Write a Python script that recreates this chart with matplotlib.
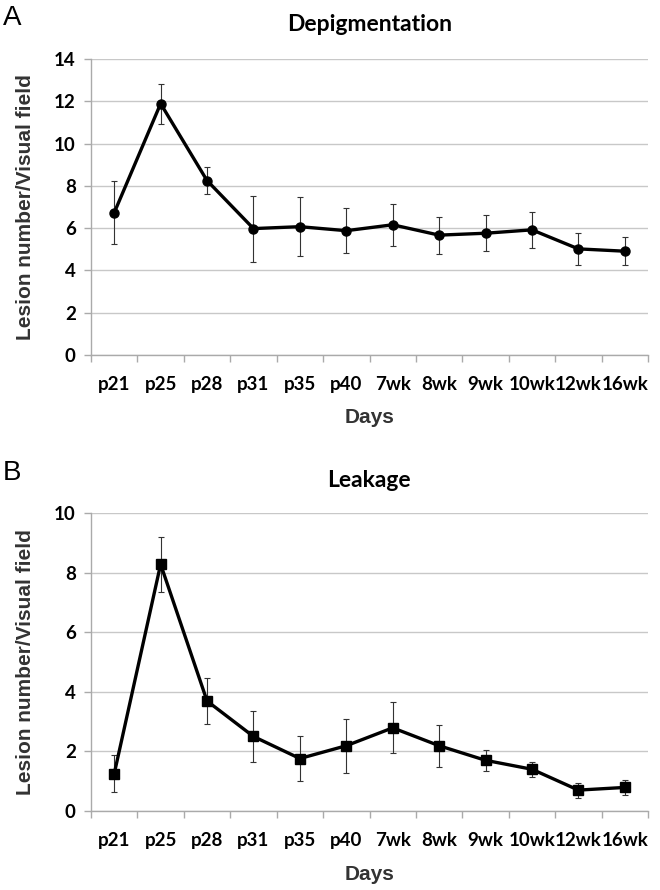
import numpy as np
import matplotlib
matplotlib.use('Agg')
import matplotlib.pyplot as plt
from matplotlib.ticker import FixedLocator

days = ['p21', 'p25', 'p28', 'p31', 'p35', 'p40', '7wk', '8wk', '9wk', '10wk', '12wk', '16wk']

# Depigmentation: mean and error
depig = [6.73, 11.89, 8.25, 5.98, 6.07, 5.88, 6.16, 5.67, 5.76, 5.92, 5.02, 4.91]
depig_err = [1.48, 0.95, 0.62, 1.56, 1.39, 1.07, 1.0, 0.87, 0.85, 0.86, 0.77, 0.67]

# Leakage: mean and error
leak = [1.25, 8.28, 3.69, 2.50, 1.76, 2.19, 2.79, 2.19, 1.70, 1.40, 0.70, 0.79]
leak_err = [0.63, 0.93, 0.77, 0.85, 0.74, 0.90, 0.86, 0.70, 0.36, 0.26, 0.25, 0.24]

tick_font = 'Lato'
label_font = ['Liberation Sans', 'DejaVu Sans']

fig = plt.figure(figsize=(6.6, 8.9), dpi=100)


def panel(rect, y, yerr, ymax, title, title_y, marker, msize, letter, letter_y):
    ax = fig.add_axes(rect)
    x = np.arange(len(days))
    ax.errorbar(x, y, yerr=yerr, fmt='none', ecolor='#333333', elinewidth=0.8,
                capsize=2.2, capthick=0.8, zorder=3)
    ax.plot(x, y, color='black', lw=2.4, marker=marker, ms=msize, zorder=4)
    ax.set_xlim(-0.5, len(days) - 0.5)
    ax.set_ylim(0, ymax)
    ax.set_yticks(np.arange(0, ymax + 1, 2))
    ax.set_xticks(x)
    ax.set_xticklabels(days)
    ax.xaxis.set_minor_locator(FixedLocator(np.arange(-0.5, len(days), 1)))
    ax.tick_params(axis='x', which='major', length=0, pad=15)
    ax.tick_params(axis='x', which='minor', length=5, color='#aaaaaa', width=1)
    ax.tick_params(axis='y', length=5, color='#aaaaaa', width=1, pad=6)
    for lab in ax.get_xticklabels() + ax.get_yticklabels():
        lab.set_fontfamily(tick_font)
        lab.set_fontweight('bold')
        lab.set_fontsize(13.5)
    ax.grid(axis='y', color='#c8c8c8', lw=1)
    ax.set_axisbelow(True)
    for s in ['top', 'right']:
        ax.spines[s].set_visible(False)
    for s in ['left', 'bottom']:
        ax.spines[s].set_color('#aaaaaa')
        ax.spines[s].set_linewidth(1)
    fig.text(0.5597, title_y, title, fontfamily=tick_font, fontweight='bold',
             fontsize=16.5, ha='center', va='center')
    ax.set_xlabel('Days', fontfamily=label_font, fontweight='bold', fontsize=15,
                  color='#333333')
    ax.xaxis.set_label_coords(0.5, -0.212)
    ax.xaxis.label.set_va('center')
    ax.set_ylabel('Lesion number/Visual field', fontfamily=label_font,
                  fontweight='bold', fontsize=15, color='#333333')
    ax.yaxis.set_label_coords(-0.1176, 0.5)
    ax.yaxis.label.set_va('center')
    fig.text(0.004, letter_y, letter, fontfamily=label_font, fontsize=20, va='center')
    return ax


panel([0.1379, 0.6011, 0.8439, 0.3326], depig, depig_err, 14, 'Depigmentation', 0.972,
      'o', 6.5, 'A', 0.980)
panel([0.1379, 0.0888, 0.8439, 0.3348], leak, leak_err, 10, 'Leakage', 0.4596,
      's', 6.5, 'B', 0.4685)

fig.savefig('out.png', dpi=100)
